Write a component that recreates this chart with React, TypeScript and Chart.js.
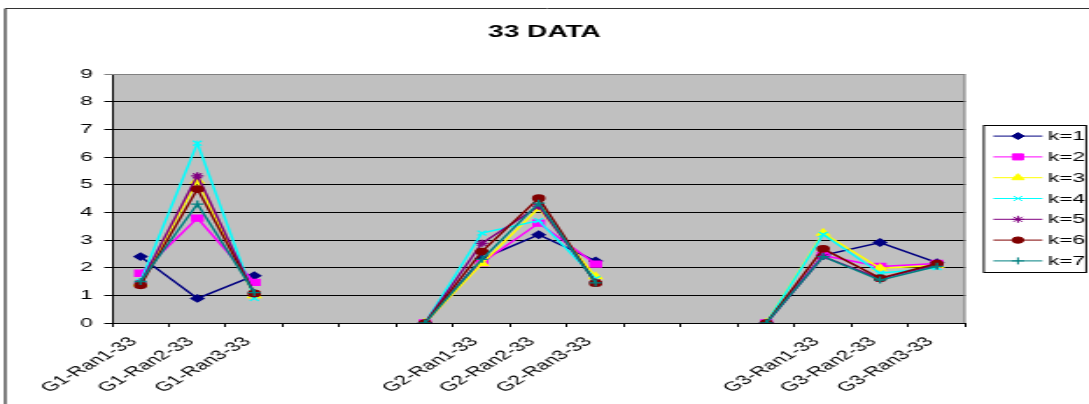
import React, { useEffect, useRef } from "react";
import { Chart, registerables } from "chart.js";
import { drawPoint } from "chart.js/helpers";

Chart.register(...registerables);

// ---- data ----
const categories = [
  "G1-Ran1-33", "G1-Ran2-33", "G1-Ran3-33", "", "", "",
  "G2-Ran1-33", "G2-Ran2-33", "G2-Ran3-33", "", "", "",
  "G3-Ran1-33", "G3-Ran2-33", "G3-Ran3-33",
];
const seriesNames = ["k=1", "k=2", "k=3", "k=4", "k=5", "k=6", "k=7"];
const k1 = [2.40, 0.89, 1.71, null, null, 0, 2.32, 3.19, 2.24, null, null, 0, 2.45, 2.91, 2.18];
const k2 = [1.80, 3.79, 1.47, null, null, 0, 2.18, 3.61, 2.13, null, null, 0, 2.44, 2.04, 2.15];
const k3 = [1.42, 5.14, 0.99, null, null, 0, 2.15, 4.15, 1.68, null, null, 0, 3.25, 1.98, 2.08];
const k4 = [1.50, 6.50, 0.89, null, null, 0, 3.25, 3.70, 1.60, null, null, 0, 3.20, 1.80, 2.00];
const k5 = [1.45, 5.32, 1.05, null, null, 0, 2.88, 4.22, 1.48, null, null, 0, 2.40, 1.60, 2.10];
const k6 = [1.36, 4.84, 1.07, null, null, 0, 2.58, 4.51, 1.44, null, null, 0, 2.68, 1.62, 2.15];
const k7 = [1.50, 4.30, 1.10, null, null, 0, 2.30, 4.33, 1.45, null, null, 0, 2.40, 1.55, 2.05];
const seriesValues = [k1, k2, k3, k4, k5, k6, k7];
const yTicksMin = 0;
const yTicksMax = 9;
const titleText = "33 DATA";

// ---- styles ----
const colors = ["#000080", "#FF00FF", "#FFFF00", "#00FFFF", "#800080", "#800000", "#008080"];
const pointStyles = ["rectRot", "rect", "triangle", "crossRot", "star", "circle", "cross"];
const pointRadii = [3.5, 4.3, 4, 3.5, 3.5, 3.2, 3.5];

const STRETCH = 1.75;
const OUT_W = 1089;
const OUT_H = 404;
const CANVAS_W = Math.round(OUT_W / STRETCH);
const FONT = "Arial, 'Liberation Sans', sans-serif";

const plotPlugin = {
  id: "excelDecor",
  beforeDraw(chart: any) {
    const { ctx, chartArea } = chart;
    ctx.save();
    ctx.fillStyle = "#ffffff";
    ctx.fillRect(0, 0, chart.width, chart.height);
    // outer chart border
    ctx.strokeStyle = "#000000";
    ctx.lineWidth = 1;
    ctx.beginPath();
    ctx.moveTo(3, 404);
    ctx.lineTo(3, 8.5);
    ctx.stroke();
    ctx.strokeStyle = "#333333";
    ctx.beginPath();
    ctx.moveTo(3, 8.5);
    ctx.lineTo(chart.width, 8.5);
    ctx.stroke();
    // title
    ctx.fillStyle = "#000000";
    ctx.font = `bold 16px ${FONT}`;
    ctx.textAlign = "center";
    ctx.textBaseline = "middle";
    ctx.fillText(titleText, chart.width / 2, 32.5);
    // plot area
    ctx.fillStyle = "#C0C0C0";
    ctx.fillRect(chartArea.left, chartArea.top, chartArea.right - chartArea.left, chartArea.bottom - chartArea.top);
    ctx.restore();
  },
  beforeDatasetsDraw(chart: any) {
    const { ctx, chartArea } = chart;
    ctx.save();
    ctx.strokeStyle = "#808080";
    ctx.lineWidth = 1;
    ctx.beginPath();
    ctx.moveTo(chartArea.left, chartArea.top + 0.5);
    ctx.lineTo(chartArea.right - 0.5, chartArea.top + 0.5);
    ctx.lineTo(chartArea.right - 0.5, chartArea.bottom);
    ctx.stroke();
    ctx.restore();
  },
  afterDraw(chart: any) {
    const { ctx, chartArea } = chart;
    const x0 = chartArea.right + 10.5;
    const w = 58.5;
    const rowH = 20.8;
    const n = chart.data.datasets.length;
    const h = 147;
    const cy = (chartArea.top + chartArea.bottom) / 2;
    const y0 = Math.round(cy - h / 2) + 0.5;
    ctx.save();
    ctx.fillStyle = "#ffffff";
    ctx.fillRect(x0, y0, w, h);
    ctx.strokeStyle = "#000000";
    ctx.lineWidth = 1;
    ctx.strokeRect(x0, y0, w, h);
    const firstY = cy - ((n - 1) * rowH) / 2;
    chart.data.datasets.forEach((ds: any, i: number) => {
      const y = firstY + i * rowH;
      const lx1 = x0 + 5.5;
      const lx2 = x0 + 33.5;
      ctx.strokeStyle = ds.borderColor;
      ctx.lineWidth = 1;
      ctx.beginPath();
      ctx.moveTo(lx1, y);
      ctx.lineTo(lx2, y);
      ctx.stroke();
      ctx.fillStyle = ds.pointBackgroundColor;
      ctx.strokeStyle = ds.pointBorderColor;
      drawPoint(ctx, { pointStyle: ds.pointStyle, radius: ds.pointRadius, borderWidth: ds.pointBorderWidth, rotation: 0 } as any, (lx1 + lx2) / 2, y);
      ctx.fillStyle = "#000000";
      ctx.font = `13px ${FONT}`;
      ctx.textBaseline = "middle";
      ctx.textAlign = "left";
      ctx.fillText(ds.label, lx2 + 3, y + 0.5);
    });
    ctx.restore();
  },
};

export default function App() {
  const ref = useRef<HTMLCanvasElement | null>(null);
  useEffect(() => {
    if (!ref.current) return;
    const datasets = seriesNames.map((name, i) => ({
      label: name,
      data: seriesValues[i],
      borderColor: colors[i],
      backgroundColor: colors[i],
      pointBackgroundColor: colors[i],
      pointBorderColor: colors[i],
      pointStyle: pointStyles[i],
      pointRadius: pointRadii[i],
      pointBorderWidth: 1.3,
      borderWidth: 1.5,
      tension: 0,
      fill: false,
      spanGaps: false,
      order: seriesNames.length - i,
    }));
    const chart = new Chart(ref.current, {
      type: "line",
      data: { labels: categories, datasets },
      plugins: [plotPlugin],
      options: {
        animation: false,
        responsive: false,
        maintainAspectRatio: false,
        devicePixelRatio: 1,
        layout: { padding: { left: 0, right: CANVAS_W - 551.4, top: 74, bottom: 0 } },
        plugins: {
          legend: { display: false },
          tooltip: { enabled: false },
          title: { display: false },
        },
        scales: {
          x: {
            type: "category",
            offset: true,
            grid: {
              display: true,
              offset: true,
              drawOnChartArea: false,
              drawTicks: true,
              tickLength: 4,
              color: "#000000",
              lineWidth: 1,
            },
            border: { display: true, color: "#000000", width: 1 },
            ticks: {
              autoSkip: false,
              minRotation: 45,
              maxRotation: 45,
              color: "#000000",
              font: { family: FONT, size: 13 },
              padding: 7,
              labelOffset: -4,
            },
            afterFit: (s: any) => {
              s.height = 81;
            },
          },
          y: {
            min: yTicksMin,
            max: yTicksMax,
            grid: {
              color: (c: any) => (c.tick && c.tick.value === yTicksMax ? "#808080" : "#000000"),
              lineWidth: 1,
              drawTicks: true,
              tickLength: 4.5,
            },
            border: { display: true, color: "#000000", width: 1 },
            ticks: {
              stepSize: 1,
              color: "#000000",
              font: { family: FONT, size: 13 },
              padding: 6.5,
            },
            afterFit: (s: any) => {
              s.width = 64;
            },
          },
        },
      } as any,
    });
    return () => chart.destroy();
  }, []);
  return (
    <div style={{ position: "fixed", left: 0, top: 0, width: OUT_W, height: OUT_H, background: "#fff" }}>
      <canvas
        ref={ref}
        width={CANVAS_W}
        height={OUT_H}
        style={{ width: `${OUT_W}px`, height: `${OUT_H}px`, display: "block" }}
      />
    </div>
  );
}
